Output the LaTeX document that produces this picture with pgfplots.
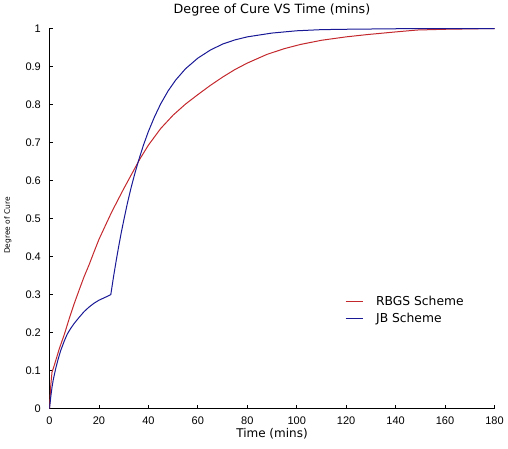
\documentclass[border=0pt]{standalone}
\usepackage{pgfplots}
\pgfplotsset{compat=1.18}
\usepackage{fontspec}
\setmainfont{Liberation Sans}
\newfontfamily\dejavu{DejaVu Sans}

\definecolor{rbgs}{RGB}{195,40,45}
\definecolor{jb}{RGB}{25,25,150}

% Degree of cure for the RBGS scheme
\pgfplotstableread{
t     a
0     0
0.5   0.06
1     0.095
2     0.115
4     0.158
6     0.195
8     0.237
10    0.276
12    0.312
14    0.347
16    0.378
18    0.412
20    0.445
22    0.473
25    0.515
28    0.553
30    0.578
33    0.614
36.6  0.657
40    0.693
45    0.737
50    0.772
55    0.801
60    0.826
65    0.850
70    0.872
75    0.892
80    0.909
88    0.932
95    0.947
101.5 0.958
110   0.969
120   0.978
128.5 0.984
140   0.991
148.7 0.996
160   0.998
170   0.999
180   1.0
}\rbgsdata

% Degree of cure for the JB scheme
\pgfplotstableread{
t     a
0     0
0.5   0.03
1     0.055
1.5   0.075
2.5   0.105
3.5   0.13
4.5   0.152
6     0.178
7.2   0.196
8.5   0.21
10    0.224
12    0.24
14    0.255
16    0.267
18    0.277
20    0.285
22    0.291
24    0.297
24.8  0.300
26    0.351
27    0.390
28    0.427
29    0.462
30    0.494
31.5  0.540
33    0.581
34.5  0.618
36    0.652
38    0.693
40    0.729
42.5  0.768
45    0.802
48    0.836
51    0.864
55    0.894
60    0.922
65    0.943
70    0.959
75    0.970
80    0.978
90    0.988
100   0.994
110   0.997
120   0.998
135   0.999
150   1.0
180   1.0
}\jbdata

\begin{document}
\begin{tikzpicture}
\begin{axis}[
  scale only axis,
  width=445pt, height=380pt,
  xmin=0, xmax=180, ymin=0, ymax=1,
  axis lines=left,
  axis line style={-, black, line width=0.9pt},
  tick align=inside,
  major tick length=4pt,
  tick style={black, line width=0.7pt},
  xtick={0,20,40,60,80,100,120,140,160,180},
  ytick={0,0.1,0.2,0.3,0.4,0.5,0.6,0.7,0.8,0.9,1},
  yticklabels={0,0.1,0.2,0.3,0.4,0.5,0.6,0.7,0.8,0.9,1},
  /pgf/number format/assume math mode=true,
  ticklabel style={font=\fontsize{11}{11}\selectfont},
  xticklabel style={anchor=base, inner sep=0pt, yshift=-15.5pt},
  yticklabel style={anchor=east, inner sep=0pt, xshift=-8.5pt},
  title={Degree of Cure VS Time (mins)},
  title style={font=\dejavu\fontsize{12.7}{13}\selectfont, inner sep=0pt,
    at={(axis description cs:0.5,1)}, anchor=base, yshift=9pt},
  xlabel={Time (mins)},
  xlabel style={font=\dejavu\fontsize{12}{12}\selectfont, inner sep=0pt,
    at={(axis description cs:0.5,0)}, anchor=base, yshift=-29pt},
  ylabel={Degree of Cure},
  ylabel style={font=\dejavu\fontsize{7.5}{7.5}\selectfont, inner sep=0pt,
    at={([xshift=-39.5pt,yshift=-7pt]axis description cs:0,0.5)}, anchor=base},
  legend style={draw=none, fill=none, at={(axis cs:119.5,0.26)}, anchor=west,
    font=\dejavu\fontsize{12.3}{12.3}\selectfont,
    nodes={inner sep=0pt, text height=9pt, text depth=0pt},
    row sep=8pt, column sep=13pt, inner sep=0pt},
  legend cell align=left,
  legend image code/.code={\draw[#1] (0pt,0pt) -- (17pt,0pt);},
]
\addplot[rbgs, line width=1pt] table[x=t, y=a] {\rbgsdata};
\addlegendentry{RBGS Scheme}
\addplot[jb, line width=1pt] table[x=t, y=a] {\jbdata};
\addlegendentry{JB Scheme}
\end{axis}
\path ([shift={(-49.5pt,-39.5pt)}]current axis.south west)
  rectangle ([shift={(13.5pt,28.5pt)}]current axis.north east);
\end{tikzpicture}
\end{document}
